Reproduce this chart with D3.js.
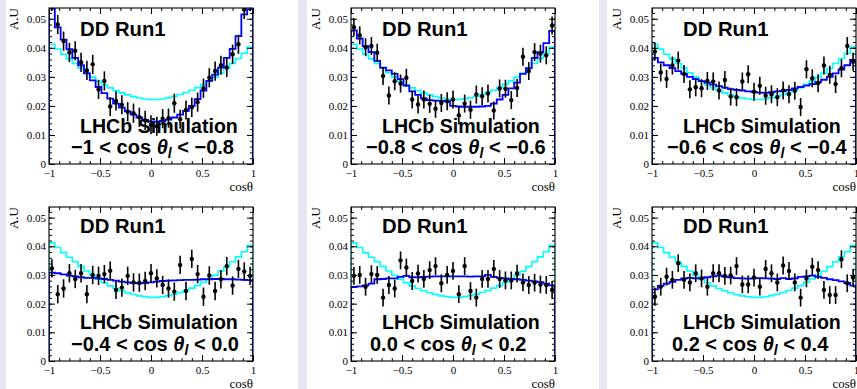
<!DOCTYPE html>
<html>
<head>
<meta charset="utf-8">
<script src="https://cdn.jsdelivr.net/npm/d3@7"></script>
<style>
  html, body { margin: 0; padding: 0; background: #e7e7f3; }
  svg { display: block; }
</style>
</head>
<body>
<svg id="chart" width="857" height="389"></svg>
<script>
// ---- data ----
const X_DOMAIN = [-1, 1];
const Y_MAX = 0.0537;
const N_BINS = 35;

const xTicks = [-1, -0.5, 0, 0.5, 1];
const xTickLabels = ['\u22121', '\u22120.5', '0', '0.5', '1'];
const yTicks = [0, 0.01, 0.02, 0.03, 0.04, 0.05];
const yTickLabels = ['0', '0.01', '0.02', '0.03', '0.04', '0.05'];

const binLow = ['\u22121', '\u22120.8', '\u22120.6', '\u22120.4', '0.0', '0.2'];
const binHigh = ['\u22120.8', '\u22120.6', '\u22120.4', '0.0', '0.2', '0.4'];

// cyan reference histogram (same in every panel)
const refHist = [0.0412, 0.0396, 0.0378, 0.0362, 0.0346, 0.0330, 0.0314, 0.0299, 0.0285, 0.0273,
  0.0262, 0.0253, 0.0245, 0.0238, 0.0232, 0.0227, 0.0224, 0.0222, 0.0222, 0.0224,
  0.0228, 0.0233, 0.0239, 0.0246, 0.0254, 0.0263, 0.0274, 0.0286, 0.0299, 0.0313,
  0.0329, 0.0346, 0.0363, 0.0381, 0.0403];

// blue histograms
const fit1 = [0.0535, 0.0470, 0.0428, 0.0395, 0.0365, 0.0340, 0.0312, 0.0288, 0.0265, 0.0244,
  0.0225, 0.0208, 0.0194, 0.0181, 0.0170, 0.0160, 0.0152, 0.0147, 0.0146, 0.0148,
  0.0153, 0.0160, 0.0170, 0.0183, 0.0200, 0.0223, 0.0253, 0.0286, 0.0308, 0.0332,
  0.0365, 0.0396, 0.0440, 0.0515, 0.0532];
const fit2 = [0.0460, 0.0432, 0.0406, 0.0385, 0.0355, 0.0332, 0.0322, 0.0310, 0.0292, 0.0270,
  0.0250, 0.0238, 0.0226, 0.0220, 0.0218, 0.0217, 0.0216, 0.0200, 0.0198, 0.0197,
  0.0197, 0.0197, 0.0198, 0.0200, 0.0208, 0.0222, 0.0238, 0.0260, 0.0280, 0.0310,
  0.0330, 0.0365, 0.0385, 0.0416, 0.0458];
const fit3 = [0.0365, 0.0350, 0.0340, 0.0330, 0.0320, 0.0310, 0.0300, 0.0292, 0.0285, 0.0280,
  0.0273, 0.0268, 0.0263, 0.0258, 0.0255, 0.0253, 0.0250, 0.0248, 0.0246, 0.0245,
  0.0247, 0.0250, 0.0252, 0.0255, 0.0260, 0.0265, 0.0270, 0.0275, 0.0282, 0.0290,
  0.0300, 0.0312, 0.0325, 0.0340, 0.0358];
const fit4 = [0.0308, 0.0306, 0.0302, 0.0298, 0.0295, 0.0292, 0.0290, 0.0290, 0.0288, 0.0286,
  0.0283, 0.0280, 0.0277, 0.0274, 0.0272, 0.0271, 0.0272, 0.0274, 0.0277, 0.0279,
  0.0280, 0.0281, 0.0282, 0.0283, 0.0283, 0.0284, 0.0285, 0.0285, 0.0286, 0.0286,
  0.0285, 0.0285, 0.0284, 0.0283, 0.0282];
const fit5 = [0.0258, 0.0260, 0.0264, 0.0270, 0.0285, 0.0286, 0.0288, 0.0288, 0.0293, 0.0297,
  0.0292, 0.0292, 0.0293, 0.0294, 0.0295, 0.0295, 0.0295, 0.0295, 0.0295, 0.0295,
  0.0294, 0.0295, 0.0295, 0.0300, 0.0293, 0.0290, 0.0288, 0.0286, 0.0285, 0.0283,
  0.0280, 0.0278, 0.0275, 0.0270, 0.0264];
const fit6 = [0.0250, 0.0262, 0.0270, 0.0276, 0.0283, 0.0288, 0.0290, 0.0288, 0.0289, 0.0292,
  0.0295, 0.0298, 0.0294, 0.0292, 0.0289, 0.0288, 0.0287, 0.0288, 0.0289, 0.0288,
  0.0287, 0.0286, 0.0289, 0.0286, 0.0288, 0.0293, 0.0295, 0.0298, 0.0293, 0.0290,
  0.0285, 0.0282, 0.0278, 0.0272, 0.0263];

// black points (simulation)
const sim1 = [0.0560, 0.0480, 0.0423, 0.0384, 0.0390, 0.0350, 0.0322, 0.0343, 0.0257, 0.0286,
  0.0198, 0.0217, 0.0204, 0.0180, 0.0175, 0.0161, 0.0150, 0.0135, 0.0130, 0.0156,
  0.0158, 0.0209, 0.0154, 0.0186, 0.0195, 0.0213, 0.0261, 0.0297, 0.0320, 0.0340,
  0.0332, 0.0378, 0.0412, 0.0532, 0.0560];
const sim2 = [0.0471, 0.0443, 0.0402, 0.0406, 0.0383, 0.0303, 0.0236, 0.0285, 0.0277, 0.0297,
  0.0222, 0.0205, 0.0222, 0.0207, 0.0190, 0.0210, 0.0216, 0.0222, 0.0167, 0.0208,
  0.0187, 0.0239, 0.0233, 0.0243, 0.0184, 0.0260, 0.0259, 0.0220, 0.0262, 0.0369,
  0.0320, 0.0385, 0.0380, 0.0374, 0.0477];
const sim3 = [0.0387, 0.0315, 0.0293, 0.0339, 0.0356, 0.0310, 0.0257, 0.0264, 0.0261, 0.0286,
  0.0284, 0.0253, 0.0289, 0.0232, 0.0230, 0.0284, 0.0309, 0.0249, 0.0269, 0.0235,
  0.0240, 0.0230, 0.0253, 0.0240, 0.0252, 0.0196, 0.0326, 0.0295, 0.0278, 0.0339,
  0.0307, 0.0275, 0.0330, 0.0406, 0.0352];
const sim4 = [0.0323, 0.0233, 0.0253, 0.0306, 0.0286, 0.0306, 0.0233, 0.0300, 0.0297, 0.0303,
  0.0315, 0.0248, 0.0256, 0.0297, 0.0274, 0.0273, 0.0279, 0.0306, 0.0288, 0.0265,
  0.0253, 0.0242, 0.0335, 0.0244, 0.0356, 0.0303, 0.0224, 0.0298, 0.0244, 0.0285,
  0.0331, 0.0263, 0.0321, 0.0312, 0.0297];
const sim5 = [0.0297, 0.0300, 0.0259, 0.0303, 0.0300, 0.0221, 0.0265, 0.0253, 0.0351, 0.0326,
  0.0279, 0.0305, 0.0286, 0.0317, 0.0331, 0.0271, 0.0300, 0.0314, 0.0233, 0.0331,
  0.0244, 0.0221, 0.0286, 0.0286, 0.0321, 0.0286, 0.0281, 0.0281, 0.0305, 0.0274,
  0.0265, 0.0273, 0.0267, 0.0265, 0.0248];
const sim6 = [0.0224, 0.0259, 0.0294, 0.0283, 0.0341, 0.0283, 0.0274, 0.0306, 0.0288, 0.0259,
  0.0306, 0.0306, 0.0297, 0.0298, 0.0331, 0.0267, 0.0267, 0.0291, 0.0259, 0.0321,
  0.0306, 0.0274, 0.0333, 0.0314, 0.0274, 0.0221, 0.0288, 0.0329, 0.0317, 0.0248,
  0.0230, 0.0230, 0.0355, 0.0271, 0.0291];
const simErr = [0.0033, 0.0031, 0.0031, 0.0032, 0.0031, 0.0031];

const fits = [fit1, fit2, fit3, fit4, fit5, fit6];
const sims = [sim1, sim2, sim3, sim4, sim5, sim6];

// ---- layout ----
const W = 857, H = 389;
const imgLeft = [6, 307, 607];
const imgRight = [298, 599, 857];
const frameLeft = [49, 351, 652];
const frameTop = [8, 207];
const frameH = [156, 154];
const frameW = 204;
const mathDx = [22, 15, 15, 22, 19, 20];
const SANS = 'Liberation Sans, Arial, Helvetica, sans-serif';
const SERIF = 'Liberation Serif, Times New Roman, serif';

const binEdges = d3.range(N_BINS + 1).map(i => X_DOMAIN[0] + (i * (X_DOMAIN[1] - X_DOMAIN[0])) / N_BINS);
const binCenters = d3.range(N_BINS).map(i => (binEdges[i] + binEdges[i + 1]) / 2);
const xMinor = d3.range(-10, 11).map(k => k / 10);
const yMinor = d3.range(0, 27).map(k => k * 0.002).filter(v => v <= Y_MAX);

const svg = d3.select('#chart');

svg.append('rect').attr('width', W).attr('height', H).attr('fill', '#e7e7f3');
svg.selectAll('rect.img')
  .data(imgLeft)
  .join('rect')
  .attr('class', 'img')
  .attr('x', (d) => d)
  .attr('y', 0)
  .attr('width', (d, i) => imgRight[i] - d)
  .attr('height', H)
  .attr('fill', '#fff');

function stepPoints(vals) {
  const pts = [[binEdges[0], 0]];
  vals.forEach((v, k) => {
    pts.push([binEdges[k], v]);
    pts.push([binEdges[k + 1], v]);
  });
  pts.push([binEdges[N_BINS], 0]);
  return pts;
}

function Panel(i) {
  const col = i % 3;
  const row = Math.floor(i / 3);
  const h = frameH[row];
  const g = svg.append('g').attr('transform', `translate(${frameLeft[col]},${frameTop[row]})`);

  const x = d3.scaleLinear(X_DOMAIN, [0, frameW]);
  const y = d3.scaleLinear([0, Y_MAX], [h, 0]);

  const clipId = `clip${i}`;
  g.append('clipPath').attr('id', clipId).append('rect').attr('width', frameW).attr('height', h);

  const plot = g.append('g').attr('clip-path', `url(#${clipId})`);
  const line = d3.line().x((d) => x(d[0])).y((d) => y(d[1]));

  plot.append('path')
    .attr('d', line(stepPoints(refHist)))
    .attr('fill', 'none')
    .attr('stroke', '#00ffff')
    .attr('stroke-width', 1.6);

  plot.append('path')
    .attr('d', line(stepPoints(fits[i])))
    .attr('fill', 'none')
    .attr('stroke', '#0000ff')
    .attr('stroke-width', 1.8);

  const pts = plot.selectAll('g.pt')
    .data(sims[i].map((v, k) => ({ x: binCenters[k], v })))
    .join('g')
    .attr('class', 'pt');
  pts.append('line')
    .attr('x1', (d) => x(d.x))
    .attr('x2', (d) => x(d.x))
    .attr('y1', (d) => y(d.v - simErr[i]))
    .attr('y2', (d) => y(d.v + simErr[i]))
    .attr('stroke', '#000')
    .attr('stroke-width', 1.6);
  pts.append('circle')
    .attr('cx', (d) => x(d.x))
    .attr('cy', (d) => y(d.v))
    .attr('r', 2.2)
    .attr('fill', '#000');

  // axes, ticks pointing inward on all four sides
  const axes = [
    [d3.axisLeft(y).tickValues(yTicks).tickSizeInner(-6).tickPadding(3).tickFormat((d, k) => yTickLabels[k]), 0, 0],
    [d3.axisLeft(y).tickValues(yMinor).tickSizeInner(-3).tickFormat(''), 0, 0],
    [d3.axisRight(y).tickValues(yTicks).tickSizeInner(-6).tickFormat(''), frameW, 0],
    [d3.axisRight(y).tickValues(yMinor).tickSizeInner(-3).tickFormat(''), frameW, 0],
    [d3.axisBottom(x).tickValues(xTicks).tickSizeInner(-6).tickPadding(5).tickFormat((d, k) => xTickLabels[k]), 0, h],
    [d3.axisBottom(x).tickValues(xMinor).tickSizeInner(-3).tickFormat(''), 0, h],
    [d3.axisTop(x).tickValues(xTicks).tickSizeInner(-6).tickFormat(''), 0, 0],
    [d3.axisTop(x).tickValues(xMinor).tickSizeInner(-3).tickFormat(''), 0, 0],
  ];
  axes.forEach(([axis, tx, ty]) => {
    const a = g.append('g')
      .attr('transform', `translate(${tx},${ty})`)
      .call(axis.tickSizeOuter(0));
    a.select('.domain').remove();
    a.selectAll('.tick line').attr('stroke', '#000').attr('stroke-width', 1);
    a.selectAll('.tick text')
      .attr('font-family', SERIF)
      .attr('font-size', 11)
      .attr('fill', '#000');
  });

  g.append('rect')
    .attr('width', frameW)
    .attr('height', h)
    .attr('fill', 'none')
    .attr('stroke', '#000')
    .attr('stroke-width', 1.1);

  // axis titles
  g.append('text')
    .attr('transform', `translate(-31,0) rotate(-90)`)
    .attr('text-anchor', 'end')
    .attr('font-family', SERIF)
    .attr('font-size', 13)
    .text('A.U');
  g.append('text')
    .attr('x', frameW)
    .attr('y', h + 26.5)
    .attr('text-anchor', 'end')
    .attr('font-family', SERIF)
    .attr('font-size', 13)
    .text('cos\u03b8');

  // labels
  const label = (txt, yy, size) =>
    g.append('text')
      .attr('x', 31)
      .attr('y', yy)
      .attr('font-family', SANS)
      .attr('font-weight', 'bold')
      .attr('font-size', size)
      .text(txt);
  label('DD Run1', row === 0 ? 28 : 26, 20.3);
  label('LHCb Simulation', row === 0 ? 125 : 122, 19.6);

  const t = g.append('text')
    .attr('x', mathDx[i])
    .attr('y', h * 0.933)
    .attr('font-family', SANS)
    .attr('font-weight', 'bold')
    .attr('font-size', 20);
  t.append('tspan').text(`${binLow[i]} < cos `);
  t.append('tspan').attr('font-style', 'italic').text('\u03b8');
  t.append('tspan').attr('font-style', 'italic').attr('font-size', 14).attr('dy', 4).text('l');
  t.append('tspan').attr('dy', -4).text(` < ${binHigh[i]}`);
}

d3.range(6).forEach(Panel);
</script>
</body>
</html>
